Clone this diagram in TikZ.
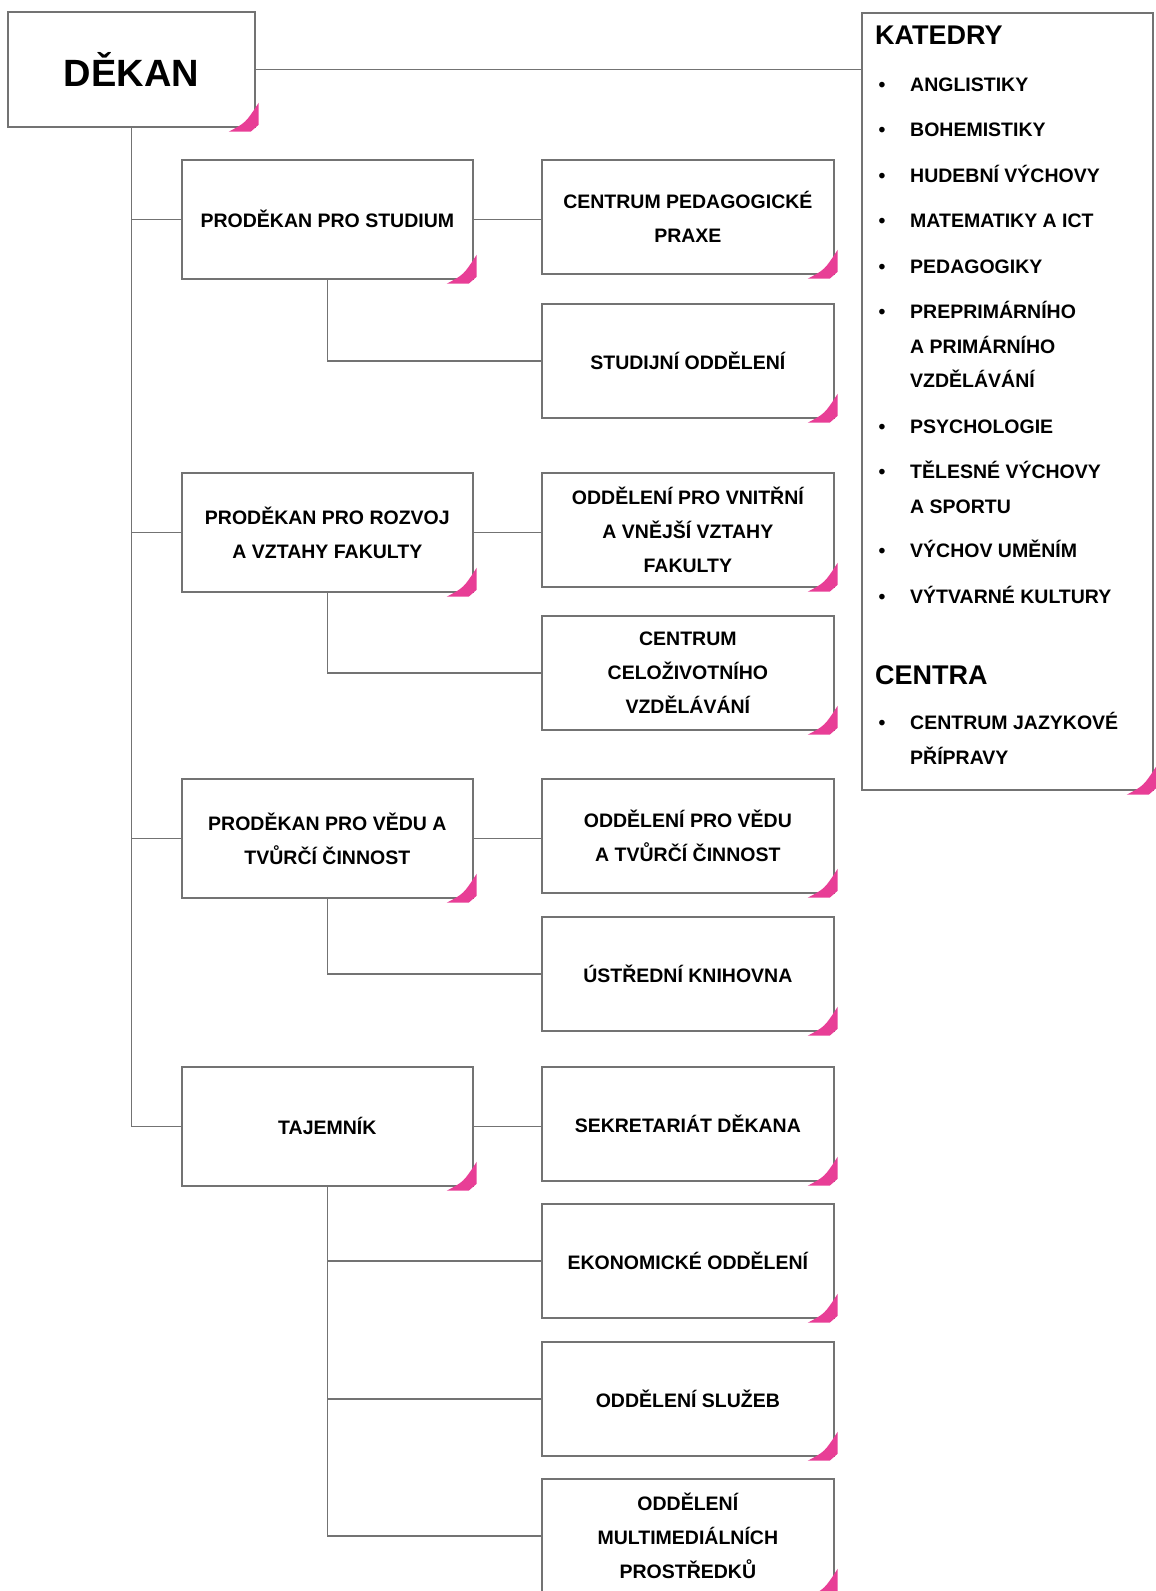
\documentclass[tikz,border=0pt]{standalone}
\usepackage{fontspec}
\setmainfont{Liberation Sans}
\usepackage{tikz}
\usetikzlibrary{positioning,calc}
\definecolor{lineGray}  {RGB}{115,115,115}
\definecolor{cornerPink}{RGB}{232,62,150}
\tikzstyle{unit}       = [draw=lineGray, line width=1.7pt, fill=white, align=center, inner sep=2pt, font=\bfseries\fontsize{19.5pt}{34pt}\selectfont]
\tikzstyle{head}       = [unit, anchor=north west, minimum width=291pt, minimum height=119pt]
\tikzstyle{dept}       = [unit, anchor=north west, minimum width=292pt, minimum height=114pt]
\tikzstyle{link}       = [draw=lineGray, line width=1.7pt]
\tikzset{
  x=1pt, y=-1pt,
  listText/.style={anchor=base west, inner sep=0pt, font=\bfseries\fontsize{19.5pt}{24pt}\selectfont},
  listBullet/.style={anchor=base, inner sep=0pt, font=\bfseries\fontsize{19.5pt}{24pt}\selectfont},
  listHead/.style={anchor=base west, inner sep=0pt, font=\bfseries\fontsize{27pt}{30pt}\selectfont}
}
\newcommand{\dogear}[1]{%
  \fill[cornerPink] ($(#1.south east)+(3,-25)$) -- ($(#1.south east)+(3,-3)$) -- ($(#1.south east)+(-5,4)$)
    -- ($(#1.south east)+(-27,4)$) .. controls ($(#1.south east)+(-10,-5)$) .. ($(#1.south east)+(3,-25)$) -- cycle;}

\begin{document}
\begin{tikzpicture}
  \useasboundingbox (0,0) rectangle (1156,1591);

  \node[unit, anchor=north west, minimum width=247pt, minimum height=115pt, font=\bfseries\fontsize{38pt}{40pt}\selectfont] (dekan) at (7,11) {DĚKAN};
  \node[unit, anchor=north west, minimum width=291pt, minimum height=777pt] (katedry) at (861,12) {};

  \node[head] (pstud) at (181,159)  {PRODĚKAN PRO STUDIUM};
  \node[head] (prozv) at (181,472)  {PRODĚKAN PRO ROZVOJ\\A VZTAHY FAKULTY};
  \node[head] (pvedu) at (181,778)  {PRODĚKAN PRO VĚDU A\\TVŮRČÍ ČINNOST};
  \node[head] (taj)   at (181,1066) {TAJEMNÍK};

  \node[dept] (cpp)     at (541,159)  {CENTRUM PEDAGOGICKÉ\\PRAXE};
  \node[dept] (studodd) at (541,303)  {STUDIJNÍ ODDĚLENÍ};
  \node[dept] (vnitr)   at (541,472)  {ODDĚLENÍ PRO VNITŘNÍ\\A VNĚJŠÍ VZTAHY\\FAKULTY};
  \node[dept] (czv)     at (541,615)  {CENTRUM\\CELOŽIVOTNÍHO\\VZDĚLÁVÁNÍ};
  \node[dept] (oddved)  at (541,778)  {ODDĚLENÍ PRO VĚDU\\A TVŮRČÍ ČINNOST};
  \node[dept] (knih)    at (541,916)  {ÚSTŘEDNÍ KNIHOVNA};
  \node[dept] (sekr)    at (541,1066) {SEKRETARIÁT DĚKANA};
  \node[dept] (ekon)    at (541,1203) {EKONOMICKÉ ODDĚLENÍ};
  \node[dept] (sluz)    at (541,1341) {ODDĚLENÍ SLUŽEB};
  \node[dept] (multim)  at (541,1478) {ODDĚLENÍ\\MULTIMEDIÁLNÍCH\\PROSTŘEDKŮ};

  \foreach \n in {dekan,katedry,pstud,prozv,pvedu,taj,cpp,studodd,vnitr,czv,oddved,knih,sekr,ekon,sluz,multim}
    \dogear{\n};

  \draw[link] (dekan.east) -- (dekan.east -| katedry.west);
  \draw[link] (dekan.south) |- (taj.west);
  \foreach \n in {pstud,prozv,pvedu}
    \draw[link] (dekan.south |- \n.west) -- (\n.west);

  \draw[link] (pstud.east) -- (pstud.east -| cpp.west);
  \draw[link] (pstud.south) |- (studodd.west);
  \draw[link] (prozv.east) -- (prozv.east -| vnitr.west);
  \draw[link] (prozv.south) |- (czv.west);
  \draw[link] (pvedu.east) -- (pvedu.east -| oddved.west);
  \draw[link] (pvedu.south) |- (knih.west);
  \draw[link] (taj.east) -- (taj.east -| sekr.west);
  \draw[link] (taj.south) |- (multim.west);
  \foreach \n in {ekon,sluz}
    \draw[link] (taj.south |- \n.west) -- (\n.west);

  \node[listHead] (katHead) at (875,44)  {KATEDRY};
  \node[listHead] (cenHead) at (875,684) {CENTRA};
  \foreach \n/\yy/\t in {1/91/ANGLISTIKY, 2/136/BOHEMISTIKY, 3/182/HUDEBNÍ VÝCHOVY, 4/227/MATEMATIKY A ICT,
      5/273/PEDAGOGIKY, 6/318/PREPRIMÁRNÍHO, 7/353/A PRIMÁRNÍHO, 8/387/VZDĚLÁVÁNÍ, 9/433/PSYCHOLOGIE,
      10/478/TĚLESNÉ VÝCHOVY, 11/513/A SPORTU, 12/557/VÝCHOV UMĚNÍM, 13/603/VÝTVARNÉ KULTURY,
      14/729/CENTRUM JAZYKOVÉ, 15/764/PŘÍPRAVY}
    \node[listText] (item\n) at (910,\yy) {\t};
  \foreach \n/\yy in {1/91, 2/136, 3/182, 4/227, 5/273, 6/318, 9/433, 10/478, 12/557, 13/603, 14/729}
    \node[listBullet] (bul\n) at (882,\yy) {•};
\end{tikzpicture}
\end{document}
